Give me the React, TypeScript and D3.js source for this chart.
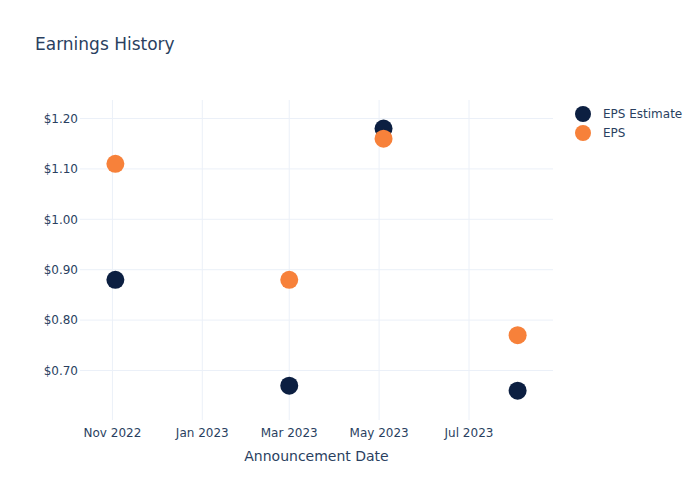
import React from "react";
import * as d3 from "d3";

const dates = ["2022-11-03", "2023-03-01", "2023-05-04", "2023-08-03"];
const epsEstimate = [0.88, 0.67, 1.18, 0.66];
const eps = [1.11, 0.88, 1.16, 0.77];
const yTicks = [0.7, 0.8, 0.9, 1.0, 1.1, 1.2];
const xTicks = ["2022-11-01", "2023-01-01", "2023-03-01", "2023-05-01", "2023-07-01"];
const seriesNames = ["EPS Estimate", "EPS"];
const seriesColors = ["#0c1f41", "#f7813a"];

const W = 700, H = 500;
const M = { l: 80, r: 147, t: 100, b: 80 };
const FONT = "'DejaVu Sans', sans-serif";
const TEXT = "#2a3f5f";
const GRID = "#ebf0f8";

const parse = d3.utcParse("%Y-%m-%d");

export default function App() {
  const x = d3
    .scaleUtc()
    .domain([parse("2022-10-10")!, parse("2023-08-27")!])
    .range([M.l, W - M.r]);
  const y = d3.scaleLinear().domain([0.6018, 1.2367]).range([H - M.b, M.t]);
  const fmtX = d3.utcFormat("%b %Y");
  const series = [epsEstimate, eps];

  return (
    <svg width={W} height={H} style={{ position: "absolute", left: 0, top: 0, background: "#fff" }}>
      <rect x={0} y={0} width={W} height={H} fill="#fff" />
      {xTicks.map((t) => (
        <line key={t} x1={x(parse(t)!)} x2={x(parse(t)!)} y1={M.t} y2={H - M.b} stroke={GRID} strokeWidth={1} />
      ))}
      {yTicks.map((t) => (
        <line key={t} x1={M.l} x2={W - M.r} y1={y(t)} y2={y(t)} stroke={GRID} strokeWidth={1} />
      ))}
      {yTicks.map((t) => (
        <text key={t} x={M.l - 2} y={y(t)} dy="0.35em" textAnchor="end" fontFamily={FONT} fontSize={12} fill={TEXT}>
          {"$" + t.toFixed(2)}
        </text>
      ))}
      {xTicks.map((t) => (
        <text key={t} x={x(parse(t)!)} y={H - M.b + 17} textAnchor="middle" fontFamily={FONT} fontSize={12} fill={TEXT}>
          {fmtX(parse(t)!)}
        </text>
      ))}
      {series.map((vals, si) => (
        <g key={si}>
          {vals.map((v, i) => (
            <circle key={i} cx={x(parse(dates[i])!)} cy={y(v)} r={9} fill={seriesColors[si]} />
          ))}
        </g>
      ))}
      <text x={(M.l + W - M.r) / 2} y={461} textAnchor="middle" fontFamily={FONT} fontSize={14} fill={TEXT}>
        Announcement Date
      </text>
      <text x={35} y={50} fontFamily={FONT} fontSize={17} fill={TEXT}>
        Earnings History
      </text>
      {seriesNames.map((n, i) => (
        <g key={n} transform={`translate(0, ${114 + i * 19})`}>
          <circle cx={583} cy={0} r={8} fill={seriesColors[i]} />
          <text x={603} y={0} dy="0.35em" fontFamily={FONT} fontSize={12} fill={TEXT}>
            {n}
          </text>
        </g>
      ))}
    </svg>
  );
}
